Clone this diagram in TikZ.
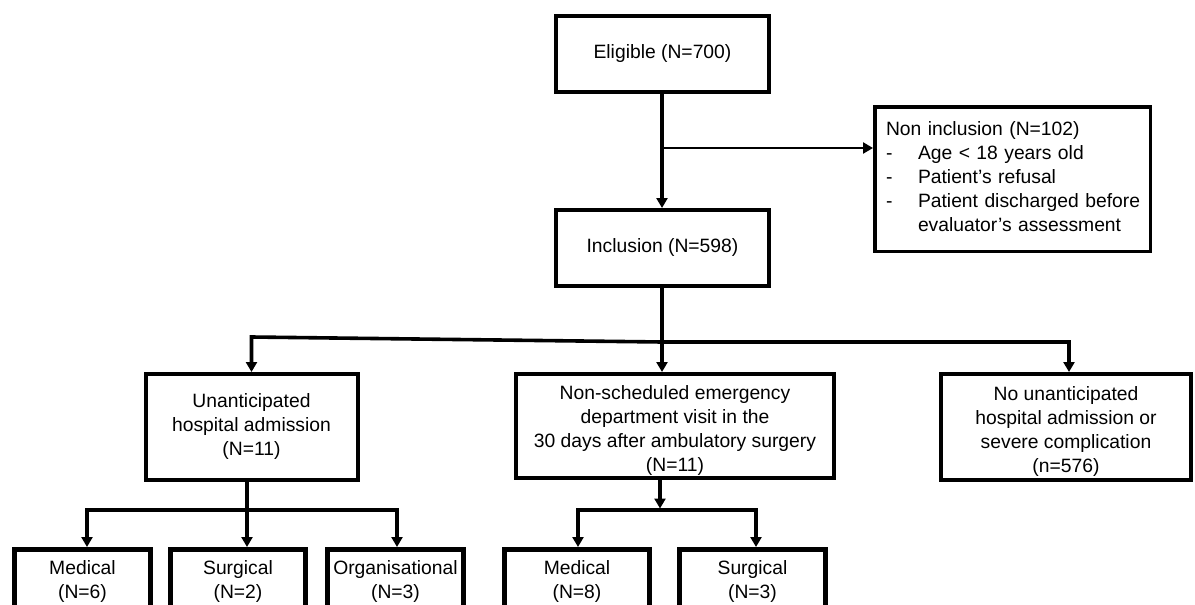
\documentclass[tikz,border=0pt]{standalone}
\usepackage{fontspec}
\setmainfont{Liberation Sans}
\usetikzlibrary{arrows.meta,calc}
\newcommand{\fs}{\fontsize{19.3}{24}\selectfont}
\begin{document}
\begin{tikzpicture}[x=1pt,y=-1pt,
  box/.style={draw, line width=4pt, inner sep=0pt, align=center, font=\fs},
  subbox/.style={box, line width=5pt, minimum height=64pt},
  conn/.style={line width=3.2pt},
  thin/.style={line width=2.6pt},
  tip/.style={-{Triangle[length=10pt,width=11pt]}},
  arr/.style={conn, tip}]
\useasboundingbox (0,0) rectangle (1195,605);
\clip (0,0) rectangle (1195,605);
\fill[white] (0,0) rectangle (1195,605);

\node[box, minimum width=213pt, minimum height=76pt] (elig) at (662.5,54) {Eligible (N=700)};
\node[box, minimum width=213pt, minimum height=76pt] (incl) at (662.5,248) {Inclusion (N=598)};
\node[box, line width=3.5pt, minimum width=275.5pt, minimum height=144.5pt, align=left, text width=253pt] (noninc) at (1012.5,179)
  {\begin{tabular}{@{}p{32pt}@{}l@{}}
   \multicolumn{2}{@{}l@{}}{Non inclusion (N=102)}\\
   - & Age < 18 years old\\
   - & Patient’s refusal\\
   - & Patient discharged before\\
     & evaluator’s assessment
   \end{tabular}};

\node[box, minimum width=212pt, minimum height=106pt] (unant) at (251.5,427) {Unanticipated\\hospital admission\\(N=11)};
\node[box, minimum width=318pt, minimum height=104pt] (mid) at (675,426) {\rule{0pt}{22pt}Non-scheduled emergency\\department visit in the\\30 days after ambulatory surgery\\(N=11)};
\node[box, minimum width=250pt, minimum height=106pt] (nores) at (1066,427) {\rule{0pt}{22pt}No unanticipated\\hospital admission or\\severe complication\\(n=576)};

\node[subbox, minimum width=136pt] (med1) at (82.5,581.5) {Medical\\(N=6)};
\node[subbox, minimum width=135pt] (surg1) at (238,581.5) {Surgical\\(N=2)};
\node[subbox, minimum width=136pt] (org) at (395.5,581.5) {Organisational\\(N=3)};
\node[subbox, minimum width=145pt] (med2) at (577,581.5) {Medical\\(N=8)};
\node[subbox, minimum width=146pt] (surg2) at (752.5,581.5) {Surgical\\(N=3)};

% top part
\coordinate (b1) at (662,148);
\draw[arr] (elig.south -| b1) -- (incl.north -| b1);
\draw[thin, tip] (b1) -- (b1 -| noninc.west);

% main bus
\coordinate (busL) at (251.5,337);
\coordinate (busM) at (662,342);
\coordinate (busR) at (1069,342);
\draw[conn, line width=3.6pt] (incl.south -| busM) -- (busM);
\draw[arr, line width=3.6pt] (busM) -- (busL) -- (unant.north);
\draw[arr, line width=3.6pt] (busM) -- (busR) -- (busR |- nores.north);
\draw[arr, line width=3.6pt] (busM) -- (busM |- mid.north);

% left sub bus
\coordinate (sb1) at (247,510);
\coordinate (sbL) at (87,510);
\coordinate (sbR) at (397,510);
\draw[arr, line width=4.2pt] (unant.south -| sb1) -- (sb1 |- surg1.north);
\draw[arr, line width=4.2pt] (sb1) -- (sbL) -- (sbL |- med1.north);
\draw[arr, line width=4.2pt] (sb1) -- (sbR) -- (sbR |- org.north);

% middle sub bus
\coordinate (sb2) at (660,510);
\coordinate (sb2L) at (578,510);
\coordinate (sb2R) at (756,510);
\draw[arr, shorten >=1.5pt] (mid.south -| sb2) -- (sb2);
\draw[arr] (sb2) -- (sb2L) -- (sb2L |- med2.north);
\draw[arr] (sb2) -- (sb2R) -- (sb2R |- surg2.north);
\end{tikzpicture}
\end{document}
